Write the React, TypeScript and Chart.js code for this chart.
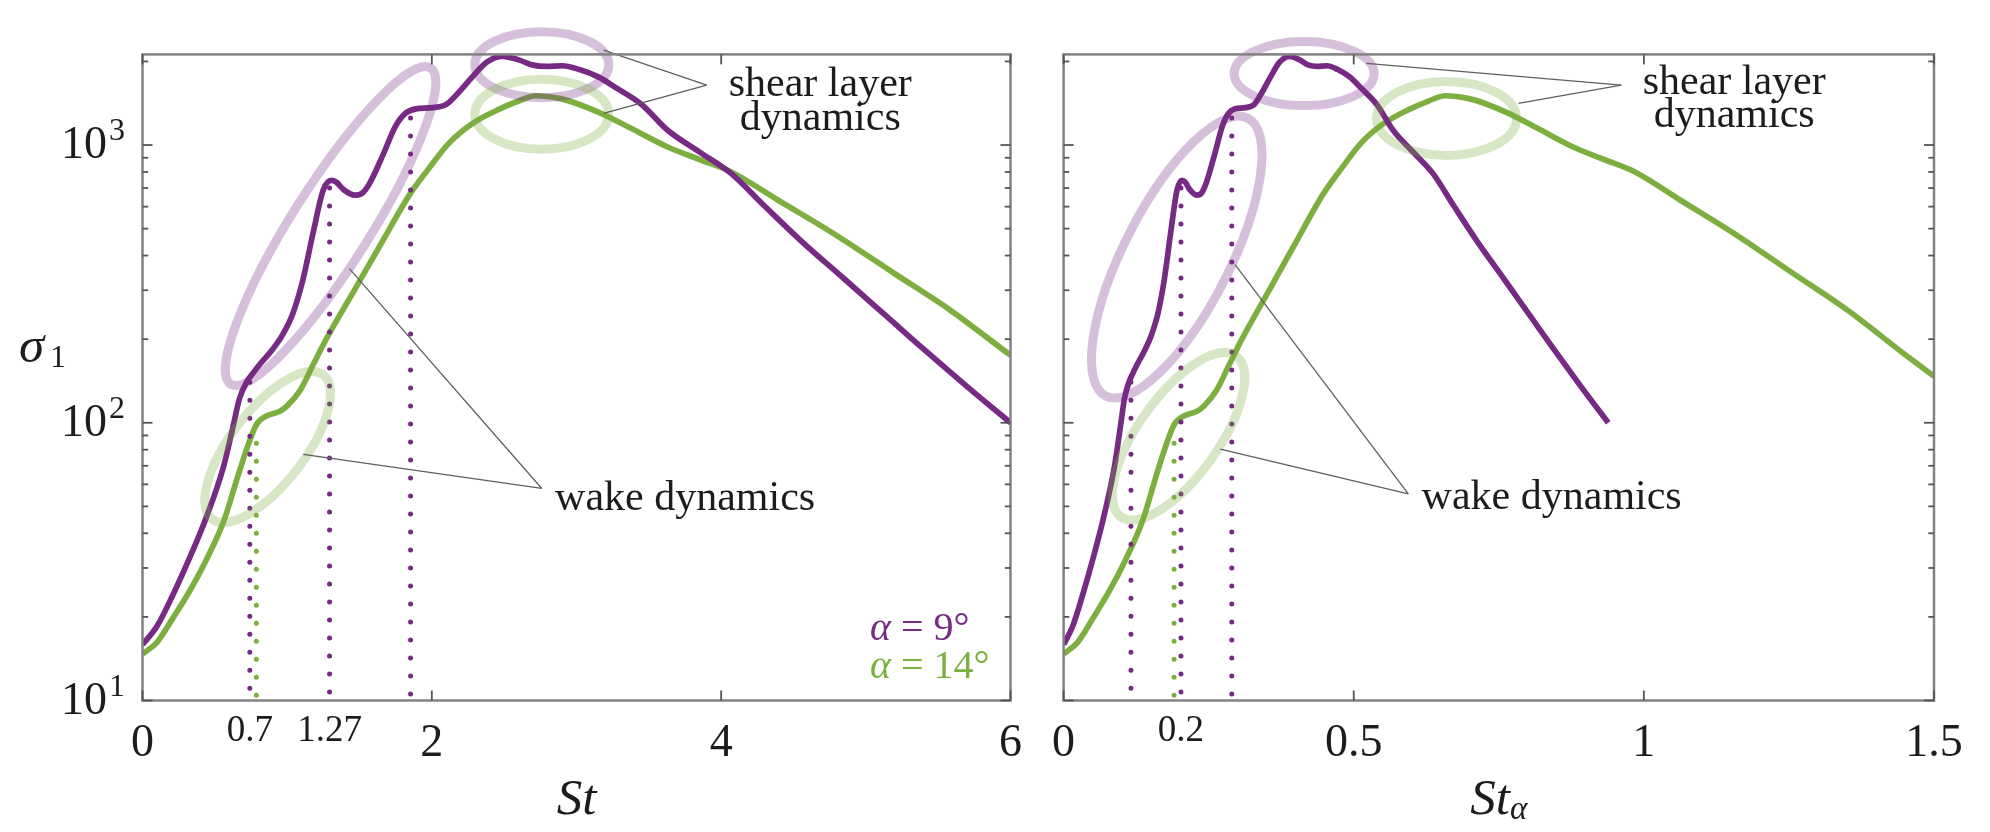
import { useEffect, useRef } from "react";
import { Chart, registerables } from "chart.js";

Chart.register(...registerables);

// sigma_1 against St, alpha = 9 deg
const stA9 = [
  0, 0.1, 0.21, 0.33, 0.44, 0.56, 0.63, 0.67, 0.72, 0.76, 0.81, 0.9, 0.97, 1.04, 1.11, 1.18, 1.25, 1.305,
  1.34, 1.39, 1.47, 1.52, 1.57, 1.66, 1.75, 1.82, 1.89, 1.98, 2.05, 2.1, 2.19, 2.28, 2.38, 2.49, 2.6, 2.7,
  2.79, 2.9, 3.02, 3.15, 3.28, 3.45, 3.63, 3.85, 4.07, 4.3, 4.55, 4.85, 5.15, 5.4, 5.7, 6.0,
];
const sigmaA9 = [
  15.9, 18.5, 24, 33, 45.5, 69.5, 99, 122, 140, 150, 162, 184, 208, 248, 329, 485, 690, 746,
  735, 691, 660, 672, 728, 916, 1172, 1304, 1350, 1360, 1373, 1400, 1556, 1760, 1990, 2085, 2026, 1940,
  1920, 1930, 1870, 1760, 1600, 1400, 1130, 944, 789, 603, 453, 330, 240, 184, 135, 100,
];

// sigma_1 against St, alpha = 14 deg
const stA14 = [
  0, 0.1, 0.21, 0.33, 0.44, 0.56, 0.67, 0.74, 0.79, 0.86, 0.95, 1.0, 1.09, 1.18, 1.27, 1.48, 1.64, 1.85,
  1.98, 2.12, 2.28, 2.47, 2.6, 2.72, 2.88, 3.02, 3.17, 3.4, 3.63, 3.85, 4.07, 4.4, 4.78, 5.2, 5.59, 6.0, 6.2,
];
const sigmaA14 = [
  14.7, 16.2, 19.8, 25, 32, 44, 67, 86, 99, 106, 110, 115, 131, 162, 200, 310, 433, 667,
  824, 1018, 1195, 1350, 1440, 1505, 1472, 1400, 1300, 1132, 984, 887, 800, 630, 479, 344, 253, 175, 147,
];

// dotted drop lines: St position and the sigma_1 where the dots start
const dropsA9 = [0.742, 1.293, 1.853];
const dropTopsA9 = [140, 700, 1250];
const dropsA14 = [0.787];
const dropTopsA14 = [98];

const stTicks = [0, 2, 4, 6];
const stAlphaTicks = [0, 0.5, 1, 1.5];
const stMarkLabels = ["0.7", "1.27"]; // under dropsA9[0], dropsA9[1]
const stAlphaMarkLabels = ["0.2"]; // under dropsA9[1]
const sigmaDecades = [1, 2, 3];

const SIN9 = Math.sin((9 * Math.PI) / 180);
const SIN14 = Math.sin((14 * Math.PI) / 180);

const PURPLE = "rgb(118, 42, 131)";
const GREEN = "rgb(124, 174, 64)";
const PURPLE_SOFT = "rgba(118, 42, 131, 0.3)";
const GREEN_SOFT = "rgba(124, 174, 64, 0.3)";
const INK = "#1c1c1c";
const SERIF = '"Liberation Serif", "Times New Roman", serif';

type Ellipse = { x: number; y: number; a: number; b: number; angle: number; color: string };
type Connector = { from: [number, number]; to: [number, number][] };
type Note = { x: number; y: number; lines: string[]; align: CanvasTextAlign };

type PanelSpec = {
  xMax: number;
  k9: number;
  k14: number;
  width: number;
  offset: number;
  padding: { left: number; right: number; top: number; bottom: number };
  xTicks: number[];
  marks: { at: number; text: string }[];
  yLabels: boolean;
  sub: string;
  legend: boolean;
  ellipses: Ellipse[];
  connectors: Connector[];
  notes: Note[];
};

const leftPanel: PanelSpec = {
  xMax: 6,
  k9: 1,
  k14: 1,
  width: 1038,
  offset: 0,
  padding: { left: 142.5, right: 1038 - 1010.5, top: 54.4, bottom: 832 - 700.5 },
  xTicks: stTicks,
  marks: stMarkLabels.map((t, i) => ({ at: dropsA9[i], text: t })),
  yLabels: true,
  sub: "",
  legend: true,
  ellipses: [
    { x: 1.3, y: 511, a: 187, b: 39, angle: -57.7, color: PURPLE_SOFT },
    { x: 0.865, y: 81.8, a: 91, b: 37, angle: -52.4, color: GREEN_SOFT },
    { x: 2.76, y: 1946, a: 67, b: 33, angle: 0, color: PURPLE_SOFT },
    { x: 2.76, y: 1291, a: 67, b: 35, angle: 0, color: GREEN_SOFT },
  ],
  connectors: [
    { from: [3.9, 1644], to: [[3.187, 2198], [3.187, 1300]] },
    { from: [2.76, 58], to: [[1.43, 359], [1.112, 76.9]] },
  ],
  notes: [
    { x: 4.685, y: 1500, lines: ["shear layer", "dynamics"], align: "center" },
    { x: 2.852, y: 48.5, lines: ["wake dynamics"], align: "left" },
  ],
};

const rightPanel: PanelSpec = {
  xMax: 1.5,
  k9: SIN9,
  k14: SIN14,
  width: 952,
  offset: 1038,
  padding: { left: 1063.6 - 1038, right: 1990 - 1934, top: 54.4, bottom: 832 - 700.5 },
  xTicks: stAlphaTicks,
  marks: stAlphaMarkLabels.map((t) => ({ at: dropsA9[1] * SIN9, text: t })),
  yLabels: false,
  sub: "α",
  legend: false,
  ellipses: [
    { x: 0.195, y: 395, a: 156, b: 53, angle: -62.9, color: PURPLE_SOFT },
    { x: 0.198, y: 89.4, a: 99, b: 40, angle: -54.4, color: GREEN_SOFT },
    { x: 0.4145, y: 1808, a: 70, b: 32, angle: 0, color: PURPLE_SOFT },
    { x: 0.66, y: 1247, a: 70, b: 37, angle: 0, color: GREEN_SOFT },
  ],
  connectors: [
    { from: [0.961, 1644], to: [[0.522, 1968], [0.784, 1413]] },
    { from: [0.594, 55.5], to: [[0.2955, 371], [0.27, 80.4]] },
  ],
  notes: [
    { x: 1.1557, y: 1528, lines: ["shear layer", "dynamics"], align: "center" },
    { x: 0.617, y: 49, lines: ["wake dynamics"], align: "left" },
  ],
};

function figurePlugin(p: PanelSpec) {
  return {
    id: "figure",
    afterDatasetsDraw(chart: Chart) {
      const ctx = chart.ctx;
      const xs = chart.scales.x;
      const ys = chart.scales.y;
      const X = (v: number) => xs.getPixelForValue(v);
      const Y = (v: number) => ys.getPixelForValue(v);
      const { left, right, top, bottom } = chart.chartArea;
      ctx.save();

      // highlight ellipses
      ctx.lineWidth = 9;
      p.ellipses.forEach((e) => {
        ctx.strokeStyle = e.color;
        ctx.beginPath();
        ctx.ellipse(X(e.x), Y(e.y), e.a, e.b, (e.angle * Math.PI) / 180, 0, Math.PI * 2);
        ctx.stroke();
      });

      // pointer lines
      ctx.strokeStyle = "rgb(95, 95, 95)";
      ctx.lineWidth = 1.3;
      p.connectors.forEach((c) => {
        c.to.forEach((t) => {
          ctx.beginPath();
          ctx.moveTo(X(c.from[0]), Y(c.from[1]));
          ctx.lineTo(X(t[0]), Y(t[1]));
          ctx.stroke();
        });
      });

      // box
      ctx.strokeStyle = "rgb(130, 130, 130)";
      ctx.lineWidth = 2.5;
      ctx.strokeRect(left, top, right - left, bottom - top);

      // inward ticks
      ctx.strokeStyle = "rgb(85, 85, 85)";
      ctx.lineWidth = 1.8;
      const tick = (x1: number, y1: number, x2: number, y2: number) => {
        ctx.beginPath();
        ctx.moveTo(x1, y1);
        ctx.lineTo(x2, y2);
        ctx.stroke();
      };
      p.xTicks.forEach((v) => {
        const x = X(v);
        tick(x, bottom, x, bottom - 10);
        tick(x, top, x, top + 10);
      });
      sigmaDecades.forEach((d) => {
        for (let m = 1; m <= 9; m++) {
          const v = m * Math.pow(10, d);
          if (v > (ys.max as number)) break;
          const y = Y(v);
          const len = m === 1 ? 10 : 5.7;
          tick(left, y, left + len, y);
          tick(right, y, right - len, y);
        }
      });

      ctx.fillStyle = INK;
      ctx.textBaseline = "alphabetic";

      // x tick labels
      ctx.font = `46px ${SERIF}`;
      ctx.textAlign = "center";
      p.xTicks.forEach((v) => ctx.fillText(String(v), X(v), 756));
      ctx.font = `37px ${SERIF}`;
      p.marks.forEach((m) => ctx.fillText(m.text, X(m.at), 741));

      // y tick labels and title
      if (p.yLabels) {
        sigmaDecades.forEach((d) => {
          const y = Y(Math.pow(10, d));
          ctx.font = `46px ${SERIF}`;
          ctx.textAlign = "right";
          ctx.fillText("10", 107 - p.offset, y + 13.3);
          ctx.font = `32px ${SERIF}`;
          ctx.textAlign = "left";
          ctx.fillText(String(d), 109 - p.offset, y - 5);
        });
        ctx.textAlign = "left";
        ctx.font = `italic 51px ${SERIF}`;
        ctx.fillText("σ", 19 - p.offset, 362);
        ctx.font = `32px ${SERIF}`;
        ctx.fillText("1", 50 - p.offset, 367);
      }

      // x title
      ctx.font = `italic 51px ${SERIF}`;
      const wSt = ctx.measureText("St").width;
      ctx.font = `italic 33px ${SERIF}`;
      const wSub = p.sub ? ctx.measureText(p.sub).width : 0;
      const cx = (left + right) / 2;
      const x0 = cx - (wSt + wSub) / 2;
      ctx.textAlign = "left";
      ctx.font = `italic 51px ${SERIF}`;
      ctx.fillText("St", x0, 813.5);
      if (p.sub) {
        ctx.font = `italic 33px ${SERIF}`;
        ctx.fillText(p.sub, x0 + wSt, 819);
      }

      // annotations
      ctx.font = `42px ${SERIF}`;
      p.notes.forEach((n) => {
        ctx.textAlign = n.align;
        n.lines.forEach((line, i) => ctx.fillText(line, X(n.x), Y(n.y) + i * 33.4));
      });

      // legend
      if (p.legend) {
        const rows: [string, string, number][] = [
          [" = 9°", PURPLE, 640],
          [" = 14°", GREEN, 678.3],
        ];
        rows.forEach(([rest, color, base]) => {
          ctx.fillStyle = color;
          ctx.textAlign = "left";
          ctx.font = `italic 40px ${SERIF}`;
          ctx.fillText("α", 870 - p.offset, base);
          const wa = ctx.measureText("α").width;
          ctx.font = `40px ${SERIF}`;
          ctx.fillText(rest, 870 - p.offset + wa, base);
        });
      }
      ctx.restore();
    },
  };
}

function buildDatasets(p: PanelSpec) {
  const line = (xs: number[], ys: number[], k: number, color: string) => ({
    data: xs.map((x, i) => ({ x: x * k, y: ys[i] })),
    borderColor: color,
    borderWidth: 5.7,
    pointRadius: 0,
    cubicInterpolationMode: "monotone" as const,
    fill: false,
  });
  const drop = (x: number, topVal: number, k: number, color: string) => ({
    data: [
      { x: x * k, y: topVal },
      { x: x * k, y: 10 },
    ],
    borderColor: color,
    borderWidth: 5,
    borderDash: [0, 18],
    borderCapStyle: "round" as const,
    pointRadius: 0,
    fill: false,
  });
  return [
    ...dropsA9.map((x, i) => drop(x, dropTopsA9[i], p.k9, PURPLE)),
    ...dropsA14.map((x, i) => drop(x, dropTopsA14[i], p.k14, GREEN)),
    line(stA9, sigmaA9, p.k9, PURPLE),
    line(stA14, sigmaA14, p.k14, GREEN),
  ];
}

function Panel({ spec }: { spec: PanelSpec }) {
  const canvasRef = useRef<HTMLCanvasElement>(null);

  useEffect(() => {
    if (!canvasRef.current) return;
    const chart = new Chart(canvasRef.current, {
      type: "line",
      data: { datasets: buildDatasets(spec) as any },
      options: {
        responsive: false,
        animation: false,
        devicePixelRatio: 1,
        layout: { padding: spec.padding },
        plugins: { legend: { display: false }, tooltip: { enabled: false } },
        scales: {
          x: { type: "linear", min: 0, max: spec.xMax, display: false },
          y: { type: "logarithmic", min: 10, max: 2120, display: false },
        },
      },
      plugins: [figurePlugin(spec)],
    });
    return () => chart.destroy();
  }, [spec]);

  return (
    <canvas
      ref={canvasRef}
      width={spec.width}
      height={832}
      style={{ position: "absolute", left: spec.offset, top: 0, width: spec.width, height: 832 }}
    />
  );
}

export default function App() {
  return (
    <div style={{ position: "absolute", left: 0, top: 0, width: 1990, height: 832, background: "#fff" }}>
      <Panel spec={leftPanel} />
      <Panel spec={rightPanel} />
    </div>
  );
}
